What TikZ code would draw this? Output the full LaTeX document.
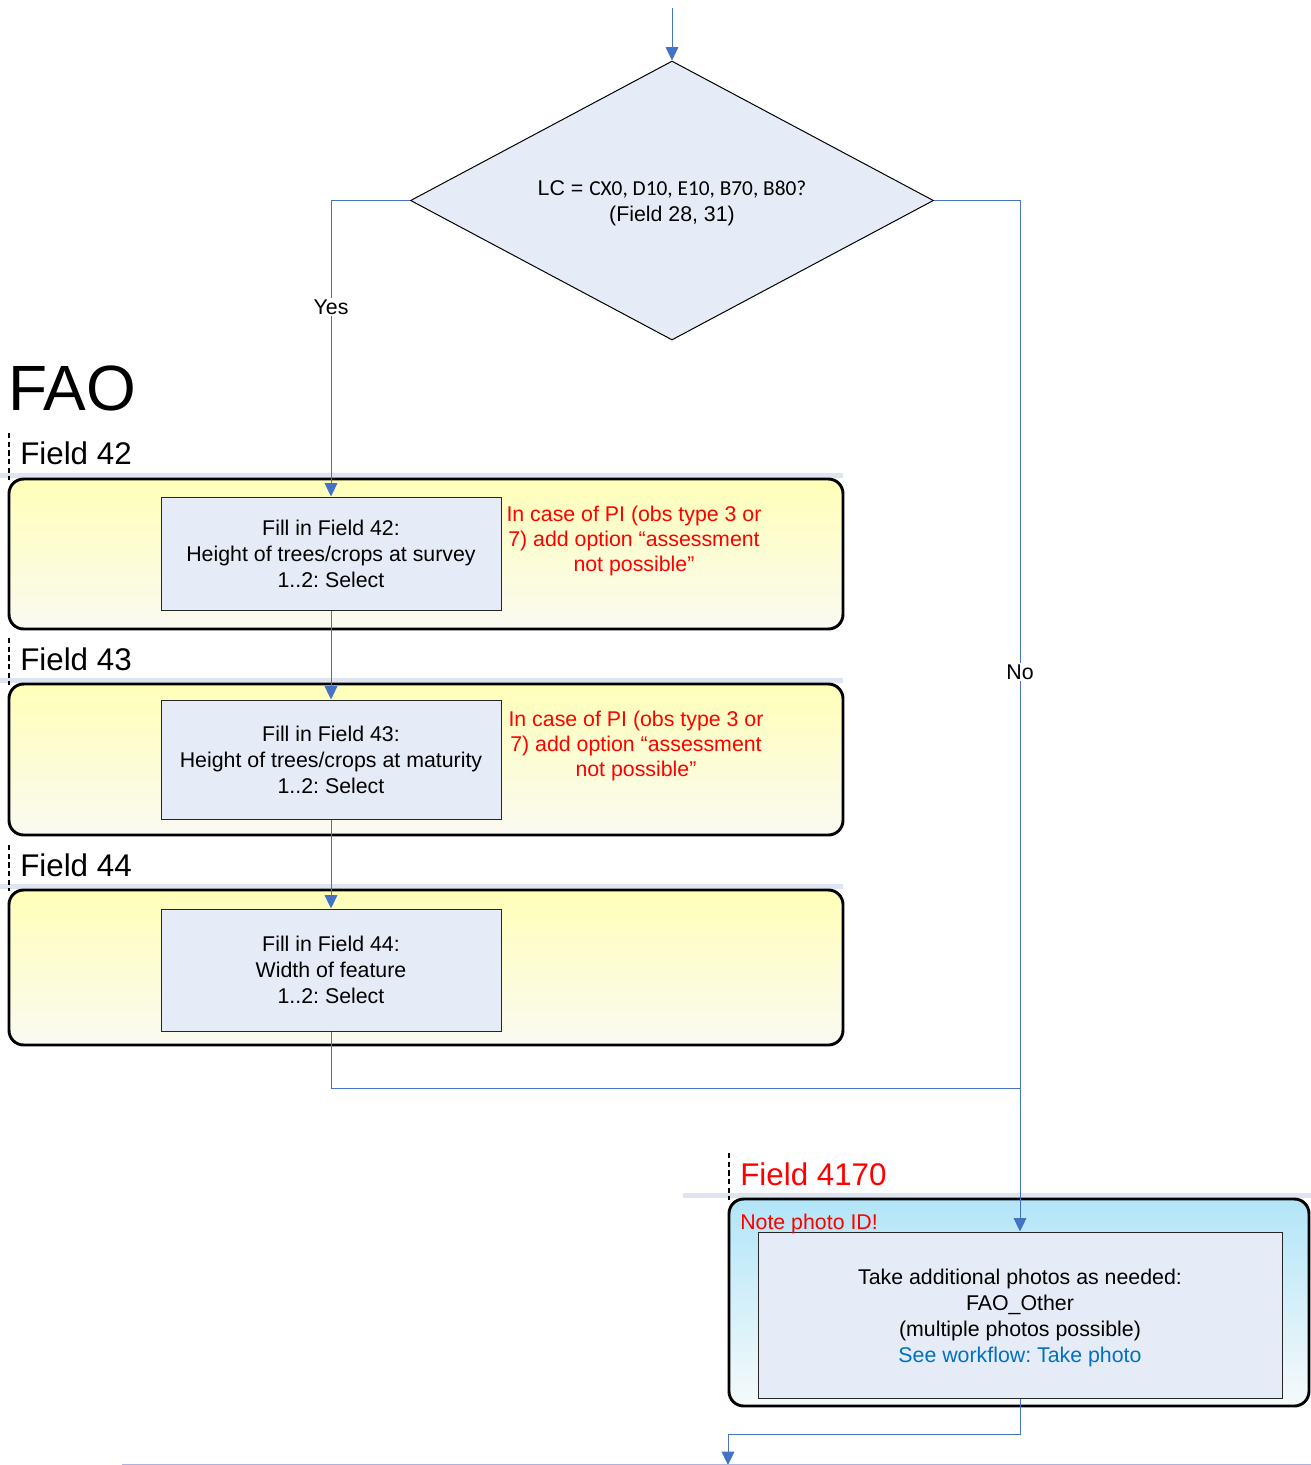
\documentclass[tikz,border=0pt]{standalone}
\usepackage{fontspec}
\setmainfont{Liberation Sans}
\newfontfamily\calib{Carlito}
\usetikzlibrary{shapes.geometric,arrows.meta}
\definecolor{boxfill}{RGB}{230,236,247}
\definecolor{flowblue}{RGB}{68,114,196}
\definecolor{bandcol}{RGB}{222,229,241}
\definecolor{laneyel}{RGB}{255,255,185}
\definecolor{laneyelb}{RGB}{250,250,242}
\definecolor{lanecyan}{RGB}{178,229,248}
\definecolor{lanecyanb}{RGB}{246,250,250}
\definecolor{linkblue}{RGB}{0,112,192}
\definecolor{bottomline}{RGB}{172,178,226}
\frenchspacing
\begin{document}
\begin{tikzpicture}[x=0.75pt,y=-0.75pt,
  font=\fontsize{16}{19.5}\selectfont\frenchspacing,
  procbox/.style={draw=black!85, line width=0.75pt, fill=boxfill, align=center, inner sep=0pt},
  decision/.style={shape=diamond, draw=black, line width=0.75pt, fill=boxfill, align=center, inner sep=0pt,
    shape aspect=1.875, minimum width=392.25pt, minimum height=209.25pt},
  laneyellow/.style={draw=black, line width=2.2pt, rounded corners=11pt, top color=laneyel, bottom color=laneyelb,
    minimum width=625.5pt, inner sep=0pt},
  lanecyanst/.style={draw=black, line width=2.2pt, rounded corners=11pt, top color=lanecyan, bottom color=lanecyanb,
    inner sep=0pt},
  flow/.style={draw=flowblue, line width=0.75pt},
  arr/.style={flow, -{Triangle[width=9.5pt,length=10pt]}},
  lanelabel/.style={anchor=west, inner sep=0pt, font=\fontsize{23.5}{28}\selectfont},
  rednote/.style={text=red, align=center, inner sep=0pt, font=\fontsize{16}{19}\selectfont},
  lanedash/.style={draw=black, line width=0.9pt, dash pattern=on 4pt off 2.5pt},
  band/.style={fill=bandcol, draw=none}
]
\useasboundingbox (0,0) rectangle (1311,1465);

% header bands
\fill[band] (0,473) rectangle (843,478);
\fill[band] (0,678) rectangle (843,683);
\fill[band] (0,884) rectangle (843,889);
\fill[band] (683,1193) rectangle (1311,1198);

% dashed lane edges
\draw[lanedash] (9,433) -- (9,480);
\draw[lanedash] (9,638) -- (9,685);
\draw[lanedash] (9,845) -- (9,891);
\draw[lanedash] (729,1153) -- (729,1200);

% lanes
\node[laneyellow, minimum height=112.5pt] (lane42) at (426,554) {};
\node[laneyellow, minimum height=113.25pt] (lane43) at (426,759.5) {};
\node[laneyellow, minimum height=116.25pt] (lane44) at (426,967.5) {};
\node[lanecyanst, minimum width=435pt, minimum height=155.25pt] (lane4170) at (1019,1302.5) {};

% titles
\node[anchor=west, inner sep=0pt, font=\fontsize{48}{56}\selectfont] (fao) at (8,388) {FAO};
\node[lanelabel] (f42) at (20,453) {Field 42};
\node[lanelabel] (f43) at (20,659) {Field 43};
\node[lanelabel] (f44) at (20,865) {Field 44};
\node[lanelabel, text=red] (f4170) at (740,1174) {Field 4170};

% decision
\node[decision] (dec) at (672,200.5) {};
\node[align=center, inner sep=0pt] (dectext) at (672,203.5) {LC = {\calib CX0, D10, E10, B70, B80?}\\(Field 28, 31)};

% process boxes
\node[procbox, minimum width=255pt, minimum height=84.75pt] (b42) at (331,553.5)
  {Fill in Field 42:\\Height of trees/crops at survey\\1..2: Select};
\node[procbox, minimum width=255pt, minimum height=89.25pt] (b43) at (331,759.5)
  {Fill in Field 43:\\Height of trees/crops at maturity\\1..2: Select};
\node[procbox, minimum width=255pt, minimum height=91.5pt] (b44) at (331,970)
  {Fill in Field 44:\\Width of feature\\1..2: Select};
\node[procbox, minimum width=393pt, minimum height=124.5pt] (photo) at (1020,1315) {};
\node[align=center, inner sep=0pt] (phototext) at (1020,1318)
  {Take additional photos as needed:\\FAO\_Other\\(multiple photos possible)\\\textcolor{linkblue}{See workflow: Take photo}};

% notes
\node[rednote] (n42) at (634,541) {In case of PI (obs type 3 or\\7) add option “assessment\\not possible”};
\node[rednote] (n43) at (636,746) {In case of PI (obs type 3 or\\7) add option “assessment\\not possible”};
\node[anchor=west, inner sep=0pt, text=red] (note) at (740,1224) {Note photo ID!};

% connectors
\coordinate (start) at (672,8);
\coordinate (join) at (1020,1088);
\coordinate (exit) at (728,1465);
\coordinate (bl) at (122,1464);
\coordinate (br) at (1311,1464);

\draw[arr] (start) -- (dec.north);
\draw[arr] (dec.west) -| (b42.north);
\draw[arr] (b42.south) -- (b43.north);
\draw[arr] (b43.south) -- (b44.north);
\draw[flow] (b44.south) |- (join);
\draw[arr] (dec.east) -| (photo.north);
\draw[arr] (photo.south) -- ++(0,36) -| (exit);
\draw[draw=bottomline, line width=0.75pt] (bl) -- (br);

\node[fill=white, inner sep=1.5pt] (yes) at (331,307) {Yes};
\node[fill=white, inner sep=1.5pt] (no) at (1020,672) {No};
\end{tikzpicture}
\end{document}
